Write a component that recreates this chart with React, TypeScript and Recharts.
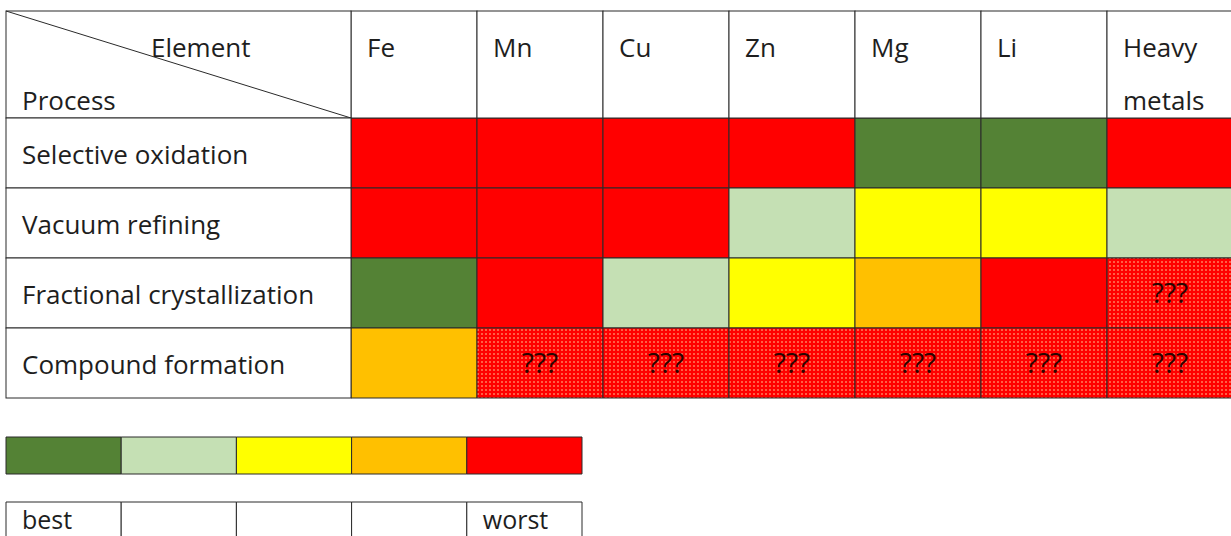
import type { JSX } from 'react';
import { Bar, BarChart, Cell, XAxis, YAxis } from 'recharts';

const elements = ['Fe', 'Mn', 'Cu', 'Zn', 'Mg', 'Li', 'Heavy metals'];
const processes = [
  'Selective oxidation',
  'Vacuum refining',
  'Fractional crystallization',
  'Compound formation',
];
// 1 = best ... 5 = worst, 0 = unknown (???)
const selectiveOxidation = [5, 5, 5, 5, 1, 1, 5];
const vacuumRefining = [5, 5, 5, 2, 3, 3, 2];
const fractionalCrystallization = [1, 5, 2, 3, 4, 5, 0];
const compoundFormation = [4, 0, 0, 0, 0, 0, 0];
const ratings = [
  selectiveOxidation,
  vacuumRefining,
  fractionalCrystallization,
  compoundFormation,
];

const levels = [1, 2, 3, 4, 5];
const levelLabels = ['best', '', '', '', 'worst'];

const levelColors: Record<number, string> = {
  0: 'url(#unknownDots)',
  1: '#548235',
  2: '#c5e0b4',
  3: '#ffff00',
  4: '#ffc000',
  5: '#ff0000',
};

const FONT = '"Open Sans", "Noto Sans", sans-serif';
const FS = 26;
const TEXT = '#1e1e1e';
const LINE = '#2a2a2a';

const TABLE_TOP = 11;
const HEADER_H = 107;
const TABLE_LEFT = 6;
const PROCESS_W = 345;
const CHART_W = 1231;
const RIGHT = -2;
const COL_W = (CHART_W - TABLE_LEFT - PROCESS_W - RIGHT) / elements.length;

const tableData = processes.map((process) => {
  const row: Record<string, string | number> = { process };
  elements.forEach((el) => (row[el] = 1));
  return row;
});

const legendData = ['scale', 'labels'].map((kind) => {
  const row: Record<string, string | number> = { kind };
  levels.forEach((l) => (row[`l${l}`] = 1));
  return row;
});

function HeaderTick(props: any): JSX.Element {
  const { x, payload } = props;
  const idx = payload.value as number;
  const words = (elements[idx] ?? '').split(' ');
  return (
    <g>
      <rect
        x={x}
        y={TABLE_TOP}
        width={COL_W}
        height={HEADER_H}
        fill="#fff"
        stroke={LINE}
      />
      <text x={x + 16} y={TABLE_TOP + 46} fontSize={FS} fill={TEXT} fontFamily={FONT}>
        {words[0]}
      </text>
      {words[1] && (
        <text x={x + 16} y={TABLE_TOP + 99} fontSize={FS} fill={TEXT} fontFamily={FONT}>
          {words[1]}
        </text>
      )}
    </g>
  );
}

function ProcessTick(props: any): JSX.Element {
  const { y, payload, index } = props;
  const h = 70;
  return (
    <g>
      {index === 0 && (
        <g>
          <rect
            x={TABLE_LEFT}
            y={TABLE_TOP}
            width={PROCESS_W}
            height={HEADER_H}
            fill="#fff"
            stroke={LINE}
          />
          <line
            x1={TABLE_LEFT}
            y1={TABLE_TOP}
            x2={TABLE_LEFT + PROCESS_W}
            y2={TABLE_TOP + HEADER_H}
            stroke={LINE}
          />
          <text x={151} y={TABLE_TOP + 46} fontSize={FS} fill={TEXT} fontFamily={FONT}>
            Element
          </text>
          <text x={22} y={TABLE_TOP + 99} fontSize={FS} fill={TEXT} fontFamily={FONT}>
            Process
          </text>
        </g>
      )}
      <rect
        x={TABLE_LEFT}
        y={y - h / 2}
        width={PROCESS_W}
        height={h}
        fill="#fff"
        stroke={LINE}
      />
      <text
        x={22}
        y={y + 2}
        dy="0.36em"
        fontSize={FS}
        fill={TEXT}
        fontFamily={FONT}
      >
        {payload.value}
      </text>
    </g>
  );
}

function unknownLabel(col: number) {
  return (props: any) => {
    const { x, y, width, height, index } = props;
    if (ratings[index][col] !== 0) return null;
    return (
      <text
        x={x + width / 2}
        y={y + height / 2}
        dy="0.36em"
        textAnchor="middle"
        fontSize={28}
        fill="#2a0500"
        fontFamily={FONT}
      >
        ???
      </text>
    );
  };
}

function legendLabel(i: number) {
  return (props: any) => {
    const { x, y, index } = props;
    if (index !== 1 || !levelLabels[i]) return null;
    return (
      <text
        x={x + 16}
        y={y + 27}
        fontSize={25}
        fill={TEXT}
        fontFamily={FONT}
      >
        {levelLabels[i]}
      </text>
    );
  };
}

export default function App(): JSX.Element {
  return (
    <div
      style={{
        position: 'absolute',
        left: 0,
        top: 0,
        width: CHART_W,
        height: 536,
        overflow: 'hidden',
        background: '#fff',
      }}
    >
      <div style={{ position: 'absolute', left: 0, top: 0 }}>
        <BarChart
          width={CHART_W}
          height={400}
          data={tableData}
          layout="vertical"
          barCategoryGap={0}
          margin={{ top: TABLE_TOP, left: TABLE_LEFT, right: RIGHT, bottom: 2 }}
        >
          <defs>
            <pattern
              id="unknownDots"
              width={4}
              height={4}
              patternUnits="userSpaceOnUse"
            >
              <rect width={4} height={4} fill="#ff0000" />
              <rect x={1} y={1} width={2} height={2} fill="#ff5e45" />
            </pattern>
          </defs>
          <XAxis
            type="number"
            orientation="top"
            domain={[0, elements.length]}
            ticks={elements.map((_, i) => i)}
            height={HEADER_H}
            axisLine={false}
            tickLine={false}
            tick={<HeaderTick />}
            interval={0}
          />
          <YAxis
            type="category"
            dataKey="process"
            width={PROCESS_W}
            axisLine={false}
            tickLine={false}
            tick={<ProcessTick />}
            interval={0}
          />
          {elements.map((el, col) => (
            <Bar
              key={el}
              dataKey={el}
              stackId="t"
              isAnimationActive={false}
              stroke={LINE}
              strokeWidth={1}
              label={unknownLabel(col)}
            >
              {ratings.map((r, row) => (
                <Cell key={row} fill={levelColors[r[col]]} />
              ))}
            </Bar>
          ))}
        </BarChart>
      </div>
      <div style={{ position: 'absolute', left: 0, top: 400 }}>
        <BarChart
          width={CHART_W}
          height={160}
          data={legendData}
          layout="vertical"
          barSize={37}
          margin={{ top: 23, left: 6, right: 649, bottom: 7 }}
        >
          <XAxis type="number" domain={[0, levels.length]} hide />
          <YAxis type="category" dataKey="kind" hide />
          {levels.map((l, i) => (
            <Bar
              key={l}
              dataKey={`l${l}`}
              stackId="s"
              isAnimationActive={false}
              stroke={LINE}
              strokeWidth={1}
              label={legendLabel(i)}
            >
              {legendData.map((d, row) => (
                <Cell key={row} fill={row === 0 ? levelColors[l] : '#fff'} />
              ))}
            </Bar>
          ))}
        </BarChart>
      </div>
    </div>
  );
}
